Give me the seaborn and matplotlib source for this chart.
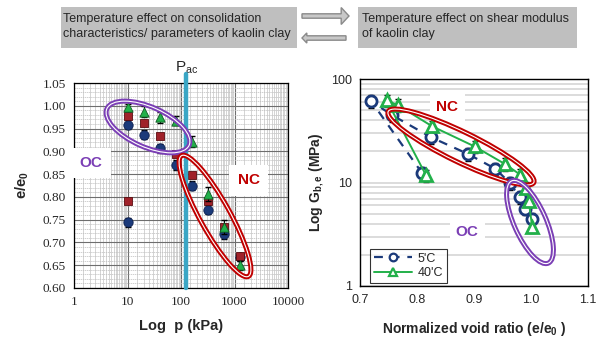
import numpy as np
import pandas as pd
import matplotlib
matplotlib.use("Agg")
import matplotlib.pyplot as plt
import seaborn as sns
from matplotlib.patches import Ellipse, Rectangle, FancyArrow
from matplotlib.ticker import LogLocator, MultipleLocator, FixedLocator, NullFormatter, FuncFormatter

# ---------------- data ----------------
# left panel: consolidation (e/e0 vs p)
p_blue = [10, 10, 20, 40, 80, 160, 320, 640, 1280]
e_blue = [0.958, 0.744, 0.936, 0.907, 0.870, 0.825, 0.772, 0.718, 0.667]
err_blue = [0.010, 0.010, 0.010, 0.010, 0.010, 0.010, 0.010, 0.010, 0.008]
p_red = [10, 10, 20, 40, 80, 160, 320, 640, 1280]
e_red = [0.978, 0.790, 0.962, 0.933, 0.895, 0.848, 0.792, 0.735, 0.671]
p_green = [10, 20, 40, 80, 160, 320, 640, 1280]
e_green = [0.997, 0.987, 0.975, 0.967, 0.921, 0.807, 0.734, 0.650]
err_green = [0.008, 0.012, 0.012, 0.010, 0.012, 0.015, 0.015, 0.010]
p_ac = 125
p_ticks = [1, 10, 100, 1000, 10000]

# right panel: shear modulus vs normalized void ratio
ratio_5 = [1.002, 0.989, 0.980, 0.963, 0.937, 0.890, 0.825, 0.757, 0.720, 0.809]
g_5 = [4.45, 5.6, 7.2, 9.9, 13.6, 18.8, 27.3, 44.5, 60.8, 12.3]
ratio_40 = [1.002, 0.996, 0.992, 0.981, 0.955, 0.901, 0.827, 0.767, 0.747, 0.816]
g_40 = [3.75, 6.65, 8.8, 11.9, 15.0, 22.3, 34.8, 55.6, 62.0, 11.7]
rel_err = 0.14
labels_T = ["5'C", "40'C"]

# ---------------- style ----------------
sns.set_theme(style="white")
plt.rcParams["font.family"] = ["Liberation Sans", "DejaVu Sans"]

NAVY = "#1B3A7A"
RED = "#A0222A"
GREEN = "#22B04A"
PURPLE = "#7B3FB5"
NCRED = "#C00000"
PAC = "#3AA6C5"

W, H = 601, 338
fig = plt.figure(figsize=(W / 100, H / 100), dpi=100)


def fx(x):
    return x / W


def fy(y):
    return 1 - y / H


# ---------------- header ----------------
fig.patches.append(Rectangle((fx(61), fy(48)), fx(297) - fx(61), fy(7) - fy(48),
                             transform=fig.transFigure, facecolor="#BFBFBF", edgecolor="none"))
fig.patches.append(Rectangle((fx(358), fy(48)), fx(577) - fx(358), fy(7) - fy(48),
                             transform=fig.transFigure, facecolor="#BFBFBF", edgecolor="none"))
fig.text(fx(63), fy(26.5), "Temperature effect on consolidation\ncharacteristics/ parameters of kaolin clay",
         fontsize=9.0, va="center", ha="left", linespacing=1.25)
fig.text(fx(362), fy(26.5), "Temperature effect on shear modulus\nof kaolin clay",
         fontsize=9.0, va="center", ha="left", linespacing=1.25)
fig.patches.append(FancyArrow(fx(302), fy(16), fx(349) - fx(302), 0, width=0.013,
                              head_width=0.05, head_length=0.013, length_includes_head=True,
                              transform=fig.transFigure, facecolor="#C8C8C8", edgecolor="#8A8A8A", lw=1))
fig.patches.append(FancyArrow(fx(346), fy(38), fx(302) - fx(346), 0, width=0.013,
                              head_width=0.03, head_length=0.008, length_includes_head=True,
                              transform=fig.transFigure, facecolor="#C8C8C8", edgecolor="#8A8A8A", lw=1))

# ---------------- left panel ----------------
ax1 = fig.add_axes([fx(74), fy(288), fx(288) - fx(74), fy(83) - fy(288)])
ax1.set_xscale("log")
ax1.set_xlim(1, 10000)
ax1.set_ylim(0.60, 1.05)

df_b = pd.DataFrame({"p": p_blue, "e": e_blue})
df_r = pd.DataFrame({"p": p_red, "e": e_red})
df_g = pd.DataFrame({"p": p_green, "e": e_green})

ax1.errorbar(p_blue, e_blue, yerr=err_blue, fmt="none", ecolor="black", elinewidth=0.8, capsize=2, zorder=3)
sns.scatterplot(data=df_b, x="p", y="e", ax=ax1, color=NAVY, marker="o", s=45,
                edgecolor="#0B1F50", linewidth=0.6, zorder=4)
sns.scatterplot(data=df_r, x="p", y="e", ax=ax1, color=RED, marker="s", s=40,
                edgecolor="#5A0C10", linewidth=0.6, zorder=5)
ax1.errorbar(p_green, e_green, yerr=err_green, fmt="none", ecolor="black", elinewidth=0.8, capsize=2, zorder=5)
sns.scatterplot(data=df_g, x="p", y="e", ax=ax1, color=GREEN, marker="^", s=45,
                edgecolor="#0E5A22", linewidth=0.6, zorder=6)

ax1.axvline(p_ac, ymin=0, ymax=1.045, color=PAC, lw=3.2, clip_on=False, zorder=7)
ax1.text(p_ac, 1.076, "P$_{\\mathregular{ac}}$", ha="center", va="center", fontsize=11,
         transform=ax1.get_xaxis_transform())

ax1.xaxis.set_major_locator(FixedLocator(p_ticks))
ax1.xaxis.set_minor_locator(LogLocator(base=10, subs=np.arange(1.5, 10, 0.5), numticks=20))
ax1.xaxis.set_minor_formatter(NullFormatter())
ax1.xaxis.set_major_formatter(FuncFormatter(lambda v, _: f"{v:g}"))
ax1.yaxis.set_major_locator(MultipleLocator(0.05))
ax1.yaxis.set_minor_locator(MultipleLocator(0.01))
ax1.yaxis.set_major_formatter(FuncFormatter(lambda v, _: f"{v:.2f}"))
ax1.grid(which="major", axis="both", color="#6E6E6E", lw=0.8)
ax1.grid(which="minor", axis="x", color="#C4C4C4", lw=0.5)
ax1.grid(which="minor", axis="y", color="#BDBDBD", lw=0.5, ls=(0, (2, 1)))
ax1.set_axisbelow(True)
ax1.tick_params(which="both", length=0, pad=6)
for lab in ax1.get_xticklabels() + ax1.get_yticklabels():
    lab.set_family(["Liberation Serif", "DejaVu Serif"])
    lab.set_fontsize(9.5)
for s in ax1.spines.values():
    s.set_color("black")
    s.set_linewidth(0.9)
ax1.set_xlabel("Log  p (kPa)", fontsize=10.5, fontweight="bold", labelpad=8)
ax1.set_ylabel("e/e$_\\mathregular{0}$", fontsize=10.5, fontweight="bold", labelpad=8)

# labels
ax1.text(0.025, 0.61, "OC", transform=ax1.transAxes, fontsize=11, fontweight="bold", color=PURPLE,
         va="center", ha="left",
         bbox=dict(boxstyle="square,pad=0.55", facecolor="white", edgecolor="none"), zorder=8)
ax1.text(0.765, 0.525, "NC", transform=ax1.transAxes, fontsize=11, fontweight="bold", color=NCRED,
         va="center", ha="left",
         bbox=dict(boxstyle="square,pad=0.55", facecolor="white", edgecolor="none"), zorder=8)

# ---------------- right panel ----------------
ax2 = fig.add_axes([fx(360), fy(286), fx(588) - fx(360), fy(79) - fy(286)])
ax2.set_yscale("log")
ax2.set_xlim(0.7, 1.1)
ax2.set_ylim(1, 100)

ax2.errorbar(ratio_5, g_5, yerr=np.array(g_5) * rel_err, fmt="none", ecolor="black",
             elinewidth=0.7, capsize=2, zorder=3)
ax2.errorbar(ratio_40, g_40, yerr=np.array(g_40) * rel_err, fmt="none", ecolor="black",
             elinewidth=0.7, capsize=2, zorder=3)
sns.lineplot(x=ratio_5, y=g_5, sort=False, estimator=None, ax=ax2, color=NAVY,
             linestyle=(0, (4, 3.5)), linewidth=1.6, marker="o", markersize=8,
             markerfacecolor="white", markeredgecolor=NAVY, markeredgewidth=2.0,
             label=labels_T[0], zorder=4)
sns.lineplot(x=ratio_40, y=g_40, sort=False, estimator=None, ax=ax2, color=GREEN,
             linestyle="-", linewidth=1.4, marker="^", markersize=8.5,
             markerfacecolor="white", markeredgecolor=GREEN, markeredgewidth=2.0,
             label=labels_T[1], zorder=5)

ax2.xaxis.set_major_locator(FixedLocator([0.7, 0.8, 0.9, 1.0, 1.1]))
ax2.xaxis.set_major_formatter(FuncFormatter(lambda v, _: f"{v:.1f}"))
ax2.yaxis.set_major_locator(FixedLocator([1, 10, 100]))
ax2.yaxis.set_major_formatter(FuncFormatter(lambda v, _: f"{v:g}"))
ax2.yaxis.set_minor_locator(LogLocator(base=10, subs=np.arange(2, 10)))
ax2.yaxis.set_minor_formatter(NullFormatter())
ax2.grid(which="both", axis="y", color="#D2D2D2", lw=1.1)
ax2.grid(False, axis="x")
ax2.set_axisbelow(True)
ax2.tick_params(which="both", length=0, labelsize=9, pad=6)
for s in ax2.spines.values():
    s.set_color("black")
    s.set_linewidth(1.0)
ax2.set_xlabel("Normalized void ratio (e/e$_\\mathregular{0}$ )", fontsize=10, fontweight="bold", labelpad=10)
ax2.set_ylabel("Log G$_\\mathregular{b,e}$ (MPa)", fontsize=10, fontweight="bold", labelpad=3)

leg = ax2.legend(loc="lower left", bbox_to_anchor=(0.045, 0.015), frameon=True, fancybox=False,
                 fontsize=9, handlelength=3.0, handletextpad=0.5, borderpad=0.3, labelspacing=0.2,
                 borderaxespad=0)
leg.get_frame().set_edgecolor("black")
leg.get_frame().set_linewidth(0.8)
for h in leg.legend_handles:
    h.set_markersize(5.5)
    h.set_markeredgewidth(1.6)

ax2.text(0.335, 0.865, "NC", transform=ax2.transAxes, fontsize=11, fontweight="bold", color=NCRED,
         va="center", ha="left",
         bbox=dict(boxstyle="square,pad=0.45", facecolor="white", edgecolor="none"), zorder=2)
ax2.text(0.42, 0.26, "OC", transform=ax2.transAxes, fontsize=11, fontweight="bold", color=PURPLE,
         va="center", ha="left",
         bbox=dict(boxstyle="square,pad=0.4", facecolor="white", edgecolor="none"), zorder=2)

# ---------------- ellipses (pixel placement) ----------------
def ring(cx, cy, w, h, ang, color):
    for lw, c in ((3.6, color), (0.8, "white")):
        fig.patches.append(Ellipse((cx / 100, (H - cy) / 100), w / 100, h / 100, angle=ang,
                                   transform=fig.dpi_scale_trans, facecolor="none",
                                   edgecolor=c, lw=lw, zorder=9))

ring(148, 127, 90, 40, -24, PURPLE)
ring(215, 216, 138, 30, -61, NCRED)
ring(461, 147, 162, 30, -26, NCRED)
ring(530, 222, 90, 32, -66, PURPLE)

fig.savefig("out.png", dpi=100)
